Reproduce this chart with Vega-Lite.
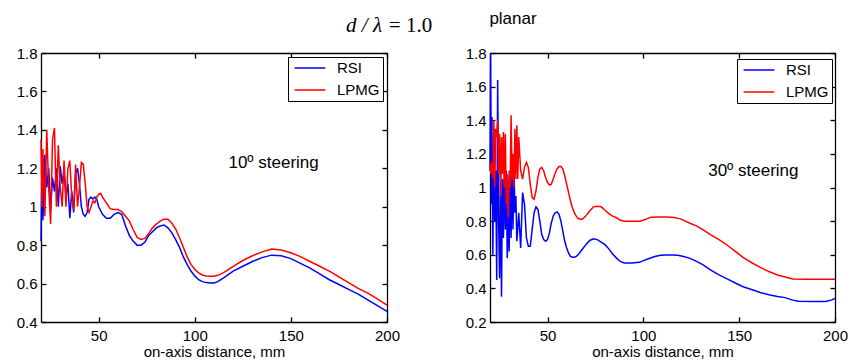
{
  "$schema": "https://vega.github.io/schema/vega-lite/v6.json",
  "background": "white",
  "padding": {"left": 16, "top": 10, "right": 2, "bottom": 2},
  "config": {
    "font": "Liberation Sans",
    "view": {"stroke": null},
    "axis": {"grid": false, "domainColor": "#000", "tickColor": "#000", "labelColor": "#000", "titleColor": "#000", "labelFontSize": 15, "titleFontSize": 15, "titleFontWeight": "normal", "tickSize": -5, "labelFlush": false, "domainWidth": 1.3, "tickWidth": 1.3},
    "legend": {"orient": "none", "title": null, "symbolType": "M-2.2,0H2.2", "symbolSize": 196, "symbolStrokeWidth": 1.5, "symbolOffset": 11, "labelFontSize": 15, "labelColor": "#000", "strokeColor": "#000", "fillColor": "#fff", "padding": 3, "rowPadding": 6, "labelOffset": 19}
  },
  "datasets": {
    "left": [
      {"s":"RSI","x":20,"y":0.82},{"s":"RSI","x":20.5,"y":1.25},{"s":"RSI","x":21,"y":0.93},{"s":"RSI","x":22,"y":1.27},{"s":"RSI","x":23,"y":1.1},{"s":"RSI","x":24,"y":1.2},{"s":"RSI","x":25,"y":0.99},{"s":"RSI","x":26,"y":1.15},{"s":"RSI","x":27,"y":1.08},{"s":"RSI","x":28,"y":1.2},{"s":"RSI","x":29,"y":1.0},{"s":"RSI","x":30,"y":1.21},{"s":"RSI","x":31,"y":1.12},{"s":"RSI","x":32,"y":1.19},{"s":"RSI","x":33,"y":1.05},{"s":"RSI","x":34,"y":1.12},{"s":"RSI","x":35,"y":0.94},{"s":"RSI","x":36,"y":1.08},{"s":"RSI","x":37,"y":0.97},{"s":"RSI","x":38,"y":1.17},{"s":"RSI","x":39,"y":1.2},{"s":"RSI","x":40,"y":1.12},{"s":"RSI","x":41,"y":1.0},{"s":"RSI","x":42,"y":0.96},{"s":"RSI","x":43,"y":0.95},{"s":"RSI","x":44,"y":0.97},{"s":"RSI","x":45,"y":1.04},{"s":"RSI","x":46,"y":1.05},{"s":"RSI","x":47,"y":1.04},{"s":"RSI","x":48,"y":1.05},{"s":"RSI","x":49,"y":1.04},{"s":"RSI","x":50,"y":1.0},{"s":"RSI","x":52,"y":0.96},{"s":"RSI","x":54,"y":0.94},{"s":"RSI","x":56,"y":0.94},{"s":"RSI","x":58,"y":0.96},{"s":"RSI","x":60,"y":0.97},{"s":"RSI","x":62,"y":0.96},{"s":"RSI","x":64,"y":0.9},{"s":"RSI","x":66,"y":0.85},{"s":"RSI","x":68,"y":0.82},{"s":"RSI","x":70,"y":0.8},{"s":"RSI","x":72,"y":0.8},{"s":"RSI","x":74,"y":0.815},{"s":"RSI","x":76,"y":0.85},{"s":"RSI","x":78,"y":0.87},{"s":"RSI","x":80,"y":0.89},{"s":"RSI","x":82,"y":0.9},{"s":"RSI","x":84,"y":0.905},{"s":"RSI","x":86,"y":0.89},{"s":"RSI","x":88,"y":0.865},{"s":"RSI","x":90,"y":0.83},{"s":"RSI","x":92,"y":0.79},{"s":"RSI","x":94,"y":0.74},{"s":"RSI","x":96,"y":0.7},{"s":"RSI","x":98,"y":0.665},{"s":"RSI","x":100,"y":0.64},{"s":"RSI","x":102,"y":0.62},{"s":"RSI","x":104,"y":0.61},{"s":"RSI","x":106,"y":0.605},{"s":"RSI","x":108,"y":0.603},{"s":"RSI","x":110,"y":0.603},{"s":"RSI","x":112,"y":0.61},{"s":"RSI","x":115,"y":0.63},{"s":"RSI","x":120,"y":0.665},{"s":"RSI","x":125,"y":0.69},{"s":"RSI","x":130,"y":0.715},{"s":"RSI","x":135,"y":0.735},{"s":"RSI","x":140,"y":0.748},{"s":"RSI","x":145,"y":0.745},{"s":"RSI","x":150,"y":0.73},{"s":"RSI","x":155,"y":0.705},{"s":"RSI","x":160,"y":0.68},{"s":"RSI","x":165,"y":0.65},{"s":"RSI","x":170,"y":0.62},{"s":"RSI","x":175,"y":0.595},{"s":"RSI","x":180,"y":0.57},{"s":"RSI","x":185,"y":0.545},{"s":"RSI","x":190,"y":0.515},{"s":"RSI","x":195,"y":0.485},{"s":"RSI","x":200,"y":0.455},
      {"s":"LPMG","x":20,"y":1.35},{"s":"LPMG","x":20.5,"y":1.0},{"s":"LPMG","x":21,"y":1.3},{"s":"LPMG","x":22,"y":0.95},{"s":"LPMG","x":23,"y":1.4},{"s":"LPMG","x":24,"y":1.1},{"s":"LPMG","x":25,"y":0.91},{"s":"LPMG","x":26,"y":1.35},{"s":"LPMG","x":27,"y":1.41},{"s":"LPMG","x":28,"y":1.0},{"s":"LPMG","x":29,"y":1.32},{"s":"LPMG","x":30,"y":1.1},{"s":"LPMG","x":31,"y":1.0},{"s":"LPMG","x":32,"y":1.24},{"s":"LPMG","x":33,"y":1.0},{"s":"LPMG","x":34,"y":1.2},{"s":"LPMG","x":35,"y":1.24},{"s":"LPMG","x":36,"y":1.05},{"s":"LPMG","x":37,"y":0.98},{"s":"LPMG","x":38,"y":1.22},{"s":"LPMG","x":39,"y":1.0},{"s":"LPMG","x":40,"y":1.1},{"s":"LPMG","x":41,"y":1.23},{"s":"LPMG","x":42,"y":1.22},{"s":"LPMG","x":43,"y":1.12},{"s":"LPMG","x":44,"y":1.0},{"s":"LPMG","x":45,"y":0.97},{"s":"LPMG","x":46,"y":1.0},{"s":"LPMG","x":47,"y":1.03},{"s":"LPMG","x":48,"y":1.02},{"s":"LPMG","x":49,"y":1.05},{"s":"LPMG","x":50,"y":1.065},{"s":"LPMG","x":51,"y":1.07},{"s":"LPMG","x":52,"y":1.05},{"s":"LPMG","x":54,"y":1.02},{"s":"LPMG","x":56,"y":0.99},{"s":"LPMG","x":58,"y":0.985},{"s":"LPMG","x":60,"y":0.985},{"s":"LPMG","x":62,"y":0.975},{"s":"LPMG","x":64,"y":0.95},{"s":"LPMG","x":66,"y":0.925},{"s":"LPMG","x":68,"y":0.88},{"s":"LPMG","x":70,"y":0.84},{"s":"LPMG","x":72,"y":0.83},{"s":"LPMG","x":74,"y":0.835},{"s":"LPMG","x":76,"y":0.86},{"s":"LPMG","x":78,"y":0.89},{"s":"LPMG","x":80,"y":0.91},{"s":"LPMG","x":82,"y":0.925},{"s":"LPMG","x":84,"y":0.935},{"s":"LPMG","x":86,"y":0.935},{"s":"LPMG","x":88,"y":0.915},{"s":"LPMG","x":90,"y":0.885},{"s":"LPMG","x":92,"y":0.84},{"s":"LPMG","x":94,"y":0.79},{"s":"LPMG","x":96,"y":0.74},{"s":"LPMG","x":98,"y":0.7},{"s":"LPMG","x":100,"y":0.675},{"s":"LPMG","x":102,"y":0.655},{"s":"LPMG","x":104,"y":0.645},{"s":"LPMG","x":106,"y":0.64},{"s":"LPMG","x":108,"y":0.638},{"s":"LPMG","x":110,"y":0.638},{"s":"LPMG","x":112,"y":0.643},{"s":"LPMG","x":115,"y":0.657},{"s":"LPMG","x":120,"y":0.69},{"s":"LPMG","x":125,"y":0.72},{"s":"LPMG","x":130,"y":0.745},{"s":"LPMG","x":135,"y":0.765},{"s":"LPMG","x":140,"y":0.78},{"s":"LPMG","x":145,"y":0.775},{"s":"LPMG","x":150,"y":0.76},{"s":"LPMG","x":155,"y":0.74},{"s":"LPMG","x":160,"y":0.715},{"s":"LPMG","x":165,"y":0.69},{"s":"LPMG","x":170,"y":0.665},{"s":"LPMG","x":175,"y":0.635},{"s":"LPMG","x":180,"y":0.605},{"s":"LPMG","x":185,"y":0.575},{"s":"LPMG","x":190,"y":0.55},{"s":"LPMG","x":195,"y":0.52},{"s":"LPMG","x":200,"y":0.488}
    ],
    "right": [
      {"s":"RSI","x":20,"y":1.1},{"s":"RSI","x":20.3,"y":1.8},{"s":"RSI","x":20.7,"y":0.9},{"s":"RSI","x":21,"y":1.42},{"s":"RSI","x":21.5,"y":0.6},{"s":"RSI","x":22,"y":1.35},{"s":"RSI","x":22.5,"y":0.8},{"s":"RSI","x":23,"y":1.1},{"s":"RSI","x":23.5,"y":0.45},{"s":"RSI","x":24,"y":1.64},{"s":"RSI","x":24.5,"y":0.8},{"s":"RSI","x":25,"y":0.46},{"s":"RSI","x":25.5,"y":1.1},{"s":"RSI","x":26,"y":0.35},{"s":"RSI","x":26.5,"y":1.05},{"s":"RSI","x":27,"y":0.7},{"s":"RSI","x":27.5,"y":1.1},{"s":"RSI","x":28,"y":0.75},{"s":"RSI","x":28.5,"y":1.1},{"s":"RSI","x":29,"y":0.58},{"s":"RSI","x":29.5,"y":0.9},{"s":"RSI","x":30,"y":0.62},{"s":"RSI","x":30.5,"y":1.1},{"s":"RSI","x":31,"y":0.7},{"s":"RSI","x":31.5,"y":1.1},{"s":"RSI","x":32,"y":0.75},{"s":"RSI","x":32.5,"y":1.12},{"s":"RSI","x":33,"y":0.85},{"s":"RSI","x":33.5,"y":0.95},{"s":"RSI","x":34,"y":0.68},{"s":"RSI","x":35,"y":0.85},{"s":"RSI","x":36,"y":0.64},{"s":"RSI","x":37,"y":0.97},{"s":"RSI","x":38,"y":0.9},{"s":"RSI","x":39,"y":0.7},{"s":"RSI","x":40,"y":0.65},{"s":"RSI","x":41,"y":0.65},{"s":"RSI","x":42,"y":0.75},{"s":"RSI","x":43,"y":0.85},{"s":"RSI","x":44,"y":0.885},{"s":"RSI","x":45,"y":0.87},{"s":"RSI","x":46,"y":0.8},{"s":"RSI","x":47,"y":0.72},{"s":"RSI","x":48,"y":0.69},{"s":"RSI","x":49,"y":0.68},{"s":"RSI","x":50,"y":0.69},{"s":"RSI","x":51,"y":0.73},{"s":"RSI","x":52,"y":0.79},{"s":"RSI","x":53,"y":0.83},{"s":"RSI","x":54,"y":0.85},{"s":"RSI","x":55,"y":0.855},{"s":"RSI","x":56,"y":0.84},{"s":"RSI","x":57,"y":0.8},{"s":"RSI","x":58,"y":0.74},{"s":"RSI","x":59,"y":0.68},{"s":"RSI","x":60,"y":0.64},{"s":"RSI","x":61,"y":0.61},{"s":"RSI","x":62,"y":0.59},{"s":"RSI","x":63,"y":0.585},{"s":"RSI","x":64,"y":0.585},{"s":"RSI","x":65,"y":0.59},{"s":"RSI","x":66,"y":0.6},{"s":"RSI","x":68,"y":0.63},{"s":"RSI","x":70,"y":0.66},{"s":"RSI","x":72,"y":0.685},{"s":"RSI","x":74,"y":0.695},{"s":"RSI","x":76,"y":0.69},{"s":"RSI","x":78,"y":0.675},{"s":"RSI","x":80,"y":0.66},{"s":"RSI","x":82,"y":0.635},{"s":"RSI","x":84,"y":0.605},{"s":"RSI","x":86,"y":0.58},{"s":"RSI","x":88,"y":0.56},{"s":"RSI","x":90,"y":0.551},{"s":"RSI","x":94,"y":0.551},{"s":"RSI","x":98,"y":0.555},{"s":"RSI","x":100,"y":0.565},{"s":"RSI","x":103,"y":0.578},{"s":"RSI","x":106,"y":0.59},{"s":"RSI","x":109,"y":0.597},{"s":"RSI","x":112,"y":0.598},{"s":"RSI","x":115,"y":0.598},{"s":"RSI","x":118,"y":0.597},{"s":"RSI","x":121,"y":0.59},{"s":"RSI","x":124,"y":0.58},{"s":"RSI","x":127,"y":0.565},{"s":"RSI","x":131,"y":0.541},{"s":"RSI","x":135,"y":0.51},{"s":"RSI","x":139.5,"y":0.48},{"s":"RSI","x":144,"y":0.455},{"s":"RSI","x":148,"y":0.432},{"s":"RSI","x":152,"y":0.41},{"s":"RSI","x":156.8,"y":0.392},{"s":"RSI","x":161,"y":0.375},{"s":"RSI","x":165.5,"y":0.362},{"s":"RSI","x":170,"y":0.352},{"s":"RSI","x":174,"y":0.345},{"s":"RSI","x":178,"y":0.33},{"s":"RSI","x":181,"y":0.323},{"s":"RSI","x":188,"y":0.322},{"s":"RSI","x":195,"y":0.322},{"s":"RSI","x":198,"y":0.33},{"s":"RSI","x":200,"y":0.34},
      {"s":"LPMG","x":20,"y":1.15},{"s":"LPMG","x":20.5,"y":1.08},{"s":"LPMG","x":21,"y":1.15},{"s":"LPMG","x":21.5,"y":1.05},{"s":"LPMG","x":22,"y":1.4},{"s":"LPMG","x":22.5,"y":1.0},{"s":"LPMG","x":23,"y":1.35},{"s":"LPMG","x":23.5,"y":1.3},{"s":"LPMG","x":24,"y":1.4},{"s":"LPMG","x":24.5,"y":1.08},{"s":"LPMG","x":25,"y":1.32},{"s":"LPMG","x":25.5,"y":0.95},{"s":"LPMG","x":26,"y":1.3},{"s":"LPMG","x":26.5,"y":1.08},{"s":"LPMG","x":27,"y":1.33},{"s":"LPMG","x":27.5,"y":1.0},{"s":"LPMG","x":28,"y":1.32},{"s":"LPMG","x":28.5,"y":0.9},{"s":"LPMG","x":29,"y":1.08},{"s":"LPMG","x":29.5,"y":0.82},{"s":"LPMG","x":30,"y":1.1},{"s":"LPMG","x":30.5,"y":1.0},{"s":"LPMG","x":31,"y":1.43},{"s":"LPMG","x":31.5,"y":1.05},{"s":"LPMG","x":32,"y":1.2},{"s":"LPMG","x":32.5,"y":1.0},{"s":"LPMG","x":33,"y":1.35},{"s":"LPMG","x":33.5,"y":1.05},{"s":"LPMG","x":34,"y":1.37},{"s":"LPMG","x":34.5,"y":1.05},{"s":"LPMG","x":35,"y":1.3},{"s":"LPMG","x":36,"y":1.1},{"s":"LPMG","x":37,"y":1.05},{"s":"LPMG","x":38,"y":1.12},{"s":"LPMG","x":39,"y":1.15},{"s":"LPMG","x":40,"y":1.12},{"s":"LPMG","x":41,"y":1.02},{"s":"LPMG","x":42,"y":0.94},{"s":"LPMG","x":43,"y":0.93},{"s":"LPMG","x":44,"y":0.98},{"s":"LPMG","x":45,"y":1.06},{"s":"LPMG","x":46,"y":1.11},{"s":"LPMG","x":47,"y":1.12},{"s":"LPMG","x":48,"y":1.1},{"s":"LPMG","x":49,"y":1.06},{"s":"LPMG","x":50,"y":1.03},{"s":"LPMG","x":51,"y":1.015},{"s":"LPMG","x":52,"y":1.02},{"s":"LPMG","x":53,"y":1.05},{"s":"LPMG","x":54,"y":1.085},{"s":"LPMG","x":55,"y":1.11},{"s":"LPMG","x":56,"y":1.125},{"s":"LPMG","x":57,"y":1.125},{"s":"LPMG","x":58,"y":1.11},{"s":"LPMG","x":59,"y":1.07},{"s":"LPMG","x":60,"y":1.02},{"s":"LPMG","x":61,"y":0.97},{"s":"LPMG","x":62,"y":0.92},{"s":"LPMG","x":63,"y":0.88},{"s":"LPMG","x":64,"y":0.85},{"s":"LPMG","x":65,"y":0.83},{"s":"LPMG","x":66,"y":0.815},{"s":"LPMG","x":68,"y":0.81},{"s":"LPMG","x":70,"y":0.83},{"s":"LPMG","x":72,"y":0.86},{"s":"LPMG","x":74,"y":0.885},{"s":"LPMG","x":76,"y":0.888},{"s":"LPMG","x":78,"y":0.885},{"s":"LPMG","x":80,"y":0.865},{"s":"LPMG","x":82,"y":0.845},{"s":"LPMG","x":84,"y":0.83},{"s":"LPMG","x":86,"y":0.82},{"s":"LPMG","x":88,"y":0.805},{"s":"LPMG","x":90,"y":0.8},{"s":"LPMG","x":94,"y":0.8},{"s":"LPMG","x":98,"y":0.8},{"s":"LPMG","x":100,"y":0.805},{"s":"LPMG","x":102,"y":0.815},{"s":"LPMG","x":104,"y":0.823},{"s":"LPMG","x":108,"y":0.825},{"s":"LPMG","x":112,"y":0.825},{"s":"LPMG","x":116,"y":0.822},{"s":"LPMG","x":119,"y":0.815},{"s":"LPMG","x":122,"y":0.8},{"s":"LPMG","x":124,"y":0.789},{"s":"LPMG","x":128,"y":0.77},{"s":"LPMG","x":131,"y":0.749},{"s":"LPMG","x":135,"y":0.72},{"s":"LPMG","x":139.5,"y":0.69},{"s":"LPMG","x":144,"y":0.655},{"s":"LPMG","x":148,"y":0.62},{"s":"LPMG","x":152,"y":0.585},{"s":"LPMG","x":156.8,"y":0.551},{"s":"LPMG","x":161,"y":0.525},{"s":"LPMG","x":165.5,"y":0.5},{"s":"LPMG","x":170,"y":0.48},{"s":"LPMG","x":174,"y":0.468},{"s":"LPMG","x":178,"y":0.456},{"s":"LPMG","x":185,"y":0.455},{"s":"LPMG","x":200,"y":0.455}
    ]
  },
  "spacing": 103,
  "bounds": "flush",
  "resolve": {"scale": {"color": "independent"}, "legend": {"color": "independent"}},
  "hconcat": [
    {
      "width": 346, "height": 269,
      "resolve": {"axis": {"x": "independent", "y": "independent"}},
      "layer": [
        {
          "data": {"name": "left"},
          "mark": {"type": "line", "strokeWidth": 1.5},
          "encoding": {
            "x": {"field": "x", "type": "quantitative", "scale": {"domain": [20, 200], "nice": false, "zero": false}, "axis": {"orient": "bottom", "values": [50, 100, 150, 200], "labelPadding": 11, "title": "on-axis distance, mm", "titlePadding": 1}},
            "y": {"field": "y", "type": "quantitative", "scale": {"domain": [0.4, 1.8], "nice": false, "zero": false}, "axis": {"orient": "left", "values": [0.4, 0.6, 0.8, 1.0, 1.2, 1.4, 1.6, 1.8], "format": "~g", "labelPadding": 9, "title": null}},
            "color": {"field": "s", "type": "nominal", "scale": {"domain": ["RSI", "LPMG"], "range": ["#0000ff", "#ff0000"]}, "legend": {"legendX": 247, "legendY": 4}}
          }
        },
        {
          "data": {"name": "left"},
          "mark": {"type": "point", "opacity": 0},
          "encoding": {
            "x": {"field": "x", "type": "quantitative", "axis": {"orient": "top", "values": [50, 100, 150, 200], "labels": false, "title": null}},
            "y": {"field": "y", "type": "quantitative", "axis": {"orient": "right", "values": [0.4, 0.6, 0.8, 1.0, 1.2, 1.4, 1.6, 1.8], "labels": false, "title": null}}
          }
        },
        {
          "data": {"values": [{"x": 141, "y": 1.228, "t": "10º steering"}]},
          "mark": {"type": "text", "fontSize": 17, "align": "center", "baseline": "middle", "color": "#000"},
          "encoding": {
            "x": {"field": "x", "type": "quantitative", "axis": null},
            "y": {"field": "y", "type": "quantitative", "axis": null},
            "text": {"field": "t"}
          }
        }
      ]
    },
    {
      "width": 345, "height": 269,
      "resolve": {"axis": {"x": "independent", "y": "independent"}},
      "layer": [
        {
          "data": {"name": "right"},
          "mark": {"type": "line", "strokeWidth": 1.5},
          "encoding": {
            "x": {"field": "x", "type": "quantitative", "scale": {"domain": [20, 200], "nice": false, "zero": false}, "axis": {"orient": "bottom", "values": [50, 100, 150, 200], "labelPadding": 11, "title": "on-axis distance, mm", "titlePadding": 1}},
            "y": {"field": "y", "type": "quantitative", "scale": {"domain": [0.2, 1.8], "nice": false, "zero": false}, "axis": {"orient": "left", "values": [0.2, 0.4, 0.6, 0.8, 1.0, 1.2, 1.4, 1.6, 1.8], "format": "~g", "labelPadding": 9, "title": null}},
            "color": {"field": "s", "type": "nominal", "scale": {"domain": ["RSI", "LPMG"], "range": ["#0000ff", "#ff0000"]}, "legend": {"legendX": 247, "legendY": 6}}
          }
        },
        {
          "data": {"name": "right"},
          "mark": {"type": "point", "opacity": 0},
          "encoding": {
            "x": {"field": "x", "type": "quantitative", "axis": {"orient": "top", "values": [50, 100, 150, 200], "labels": false, "title": null}},
            "y": {"field": "y", "type": "quantitative", "axis": {"orient": "right", "values": [0.2, 0.4, 0.6, 0.8, 1.0, 1.2, 1.4, 1.6, 1.8], "labels": false, "title": null}}
          }
        },
        {
          "data": {"values": [{"x": 157.4, "y": 1.098, "t": "30º steering"}]},
          "mark": {"type": "text", "fontSize": 17, "align": "center", "baseline": "middle", "color": "#000"},
          "encoding": {
            "x": {"field": "x", "type": "quantitative", "axis": null},
            "y": {"field": "y", "type": "quantitative", "axis": null},
            "text": {"field": "t"}
          }
        },
        {
          "data": {"values": [{"x": 32, "y": 2.0, "t": "planar"}]},
          "mark": {"type": "text", "fontSize": 17, "align": "center", "baseline": "middle", "color": "#000"},
          "encoding": {
            "x": {"field": "x", "type": "quantitative", "axis": null},
            "y": {"field": "y", "type": "quantitative", "axis": null},
            "text": {"field": "t"}
          }
        },
        {
          "data": {"values": [{"x": -45.7, "y": 1.96, "t": "d / λ"}]},
          "mark": {"type": "text", "font": "Liberation Serif", "fontStyle": "italic", "fontSize": 21, "align": "center", "baseline": "middle", "color": "#000"},
          "encoding": {
            "x": {"field": "x", "type": "quantitative", "axis": null},
            "y": {"field": "y", "type": "quantitative", "axis": null},
            "text": {"field": "t"}
          }
        },
        {
          "data": {"values": [{"x": -21.5, "y": 1.96, "t": "= 1.0"}]},
          "mark": {"type": "text", "font": "Liberation Serif", "fontSize": 21, "align": "center", "baseline": "middle", "color": "#000"},
          "encoding": {
            "x": {"field": "x", "type": "quantitative", "axis": null},
            "y": {"field": "y", "type": "quantitative", "axis": null},
            "text": {"field": "t"}
          }
        }
      ]
    }
  ]
}
